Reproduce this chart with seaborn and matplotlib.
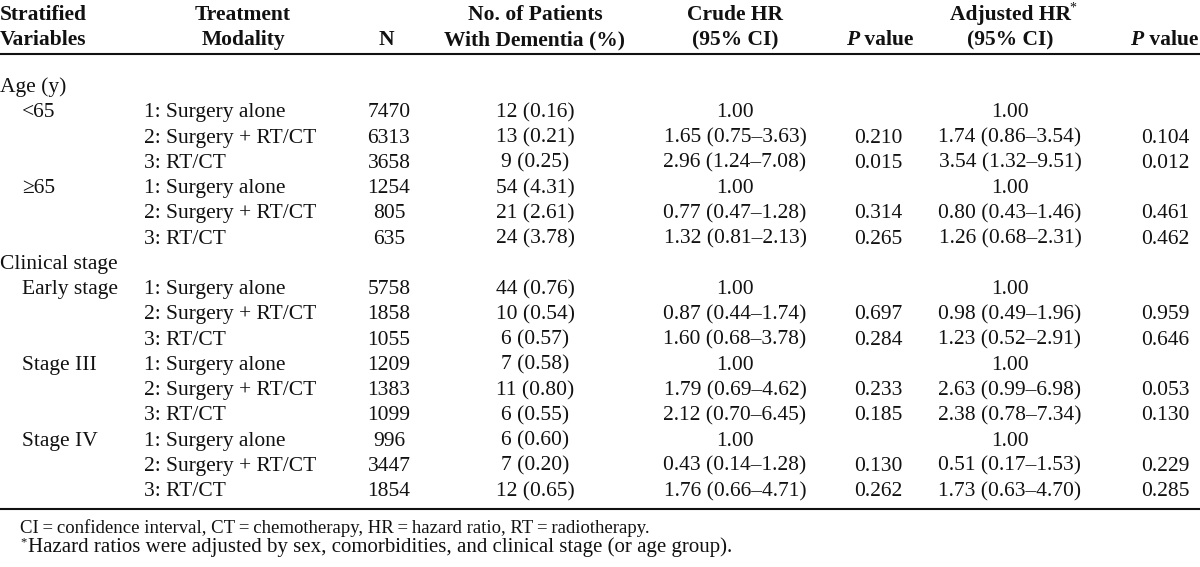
import matplotlib
matplotlib.use("Agg")
import matplotlib.pyplot as plt
import seaborn as sns

sns.set_theme(style="white")
plt.rcParams['font.family'] = ['Liberation Serif', 'DejaVu Serif']

# ---- data ----
strata = ["Age (y)", "<65", "", "", "\u226565", "", "",
          "Clinical stage", "Early stage", "", "", "Stage III", "", "", "Stage IV", "", ""]
strata_level = [0, 1, 1, 1, 1, 1, 1, 0, 1, 1, 1, 1, 1, 1, 1, 1, 1]
modality = ["", "1: Surgery alone", "2: Surgery + RT/CT", "3: RT/CT",
            "1: Surgery alone", "2: Surgery + RT/CT", "3: RT/CT",
            "", "1: Surgery alone", "2: Surgery + RT/CT", "3: RT/CT",
            "1: Surgery alone", "2: Surgery + RT/CT", "3: RT/CT",
            "1: Surgery alone", "2: Surgery + RT/CT", "3: RT/CT"]
n_values = ["", "7470", "6313", "3658", "1254", "805", "635",
            "", "5758", "1858", "1055", "1209", "1383", "1099", "996", "3447", "1854"]
dementia = ["", "12 (0.16)", "13 (0.21)", "9 (0.25)", "54 (4.31)", "21 (2.61)", "24 (3.78)",
            "", "44 (0.76)", "10 (0.54)", "6 (0.57)", "7 (0.58)", "11 (0.80)", "6 (0.55)",
            "6 (0.60)", "7 (0.20)", "12 (0.65)"]
crude_hr = ["", "1.00", "1.65 (0.75\u20133.63)", "2.96 (1.24\u20137.08)",
            "1.00", "0.77 (0.47\u20131.28)", "1.32 (0.81\u20132.13)",
            "", "1.00", "0.87 (0.44\u20131.74)", "1.60 (0.68\u20133.78)",
            "1.00", "1.79 (0.69\u20134.62)", "2.12 (0.70\u20136.45)",
            "1.00", "0.43 (0.14\u20131.28)", "1.76 (0.66\u20134.71)"]
crude_p = ["", "", "0.210", "0.015", "", "0.314", "0.265",
           "", "", "0.697", "0.284", "", "0.233", "0.185", "", "0.130", "0.262"]
adj_hr = ["", "1.00", "1.74 (0.86\u20133.54)", "3.54 (1.32\u20139.51)",
          "1.00", "0.80 (0.43\u20131.46)", "1.26 (0.68\u20132.31)",
          "", "1.00", "0.98 (0.49\u20131.96)", "1.23 (0.52\u20132.91)",
          "1.00", "2.63 (0.99\u20136.98)", "2.38 (0.78\u20137.34)",
          "1.00", "0.51 (0.17\u20131.53)", "1.73 (0.63\u20134.70)"]
adj_p = ["", "", "0.104", "0.012", "", "0.461", "0.462",
         "", "", "0.959", "0.646", "", "0.053", "0.130", "", "0.229", "0.285"]
footnotes = ["CI\u2009=\u2009confidence interval, CT\u2009=\u2009chemotherapy, "
             "HR\u2009=\u2009hazard ratio, RT\u2009=\u2009radiotherapy.",
             "Hazard ratios were adjusted by sex, comorbidities, and clinical stage (or age group)."]

# ---- layout ----
W, H = 1200, 567
fig = plt.figure(figsize=(W / 100, H / 100), dpi=100)
ax = fig.add_axes([0, 0, 1, 1])
ax.set_xlim(0, W)
ax.set_ylim(H, 0)
ax.axis("off")

FS = 15.5
COL = "#111111"
row0, dy = 85, 25.25
base_off = 7.2

def t(x, y, s, ha="center", **kw):
    kw.setdefault("fontsize", FS)
    kw.setdefault("color", COL)
    return ax.text(x, y, s, ha=ha, va="baseline", **kw)

# header
hb1, hb2 = 20, 45
bold = dict(fontweight="bold")
t(0, hb1, "Stratified", ha="left", **bold)
t(0, hb2, "Variables", ha="left", **bold)
t(243, hb1, "Treatment", **bold)
t(243, hb2, "Modality", **bold)
t(386, hb2, "N", **bold)
t(535, hb1, "No. of Patients", **bold)
t(535, hb2, "With Dementia (%)", **bold)
t(735, hb1, "Crude HR", **bold)
t(735, hb2, "(95% CI)", **bold)
t(1010, hb1, "Adjusted HR", **bold)
t(1069, hb1 - 8, "*", ha="left", fontsize=10)
t(1010, hb2, "(95% CI)", **bold)

fig.canvas.draw()
renderer = fig.canvas.get_renderer()
inv = ax.transData.inverted()

def width(txt):
    bb = txt.get_window_extent(renderer=renderer)
    (x0, _), (x1, _) = inv.transform([(bb.x0, 0), (bb.x1, 0)])
    return x1 - x0

def pvalue_header(x_right=None, x_center=None):
    p = t(0, hb2, "P", ha="left", fontweight="bold", fontstyle="italic")
    v = t(0, hb2, " value", ha="left", fontweight="bold")
    wp, wv = width(p), width(v)
    total = wp + wv
    left = x_right - total if x_right is not None else x_center - total / 2
    p.set_x(left)
    v.set_x(left + wp)

pvalue_header(x_center=880)
pvalue_header(x_right=1198)

# rules
ax.plot([0, W], [54, 54], color=COL, lw=1.5, solid_capstyle="butt")
ax.plot([0, W], [509, 509], color=COL, lw=1.5, solid_capstyle="butt")

# body
for i in range(len(strata)):
    yb = row0 + dy * i + base_off
    if strata[i]:
        t(0 if strata_level[i] == 0 else 22, yb, strata[i], ha="left")
    if modality[i]:
        t(144, yb, modality[i], ha="left")
    t(389, yb, n_values[i])
    t(535, yb, dementia[i])
    t(735, yb, crude_hr[i])
    t(878, yb, crude_p[i])
    t(1010, yb, adj_hr[i])
    t(1165, yb, adj_p[i])

# footnotes
t(20, 533, footnotes[0], ha="left", fontsize=13.5)
t(20, 545, "*", ha="left", fontsize=9)
t(28, 552, footnotes[1], ha="left", fontsize=15)

fig.savefig("out.png", dpi=100)
